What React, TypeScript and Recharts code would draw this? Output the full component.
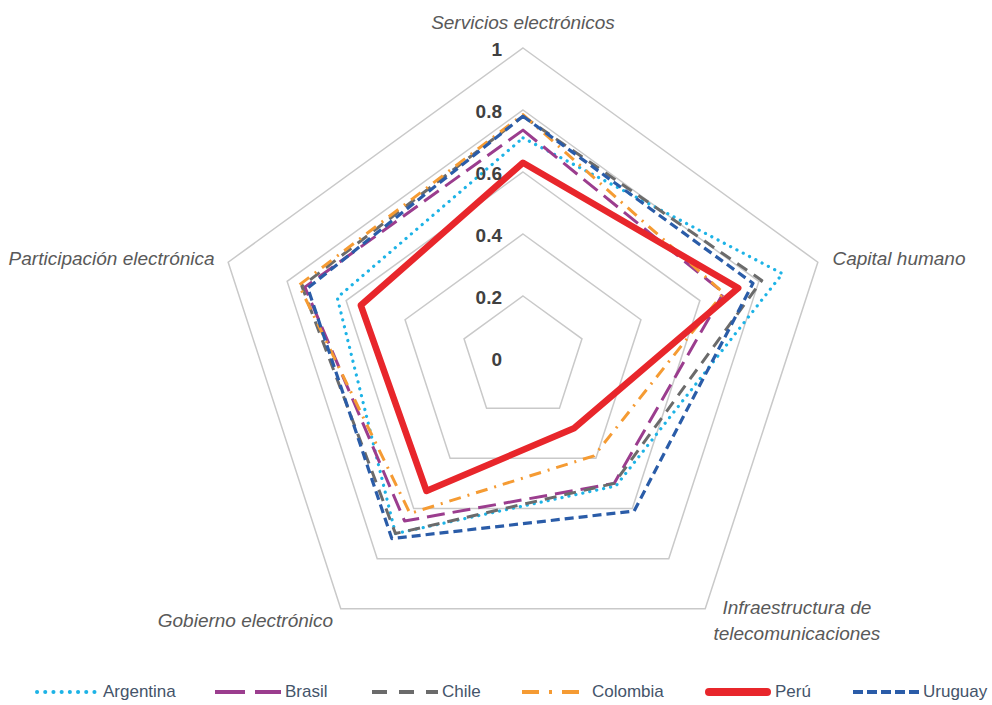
import React from 'react';
import { RadarChart, Radar, PolarGrid, PolarAngleAxis, PolarRadiusAxis, Legend } from 'recharts';

const categories = [
  'Servicios electrónicos',
  'Capital humano',
  'Infraestructura de telecomunicaciones',
  'Gobierno electrónico',
  'Participación electrónica',
];

const argentina = [0.71, 0.88, 0.51, 0.70, 0.63];
const brasil = [0.735, 0.68, 0.50, 0.65, 0.74];
const chile = [0.78, 0.81, 0.50, 0.70, 0.75];
const colombia = [0.785, 0.68, 0.39, 0.62, 0.76];
const peru = [0.63, 0.73, 0.28, 0.53, 0.55];
const uruguay = [0.78, 0.78, 0.61, 0.72, 0.73];

const radiusTicks = [0, 0.2, 0.4, 0.6, 0.8, 1];
const radiusTickLabels = ['0', '0.2', '0.4', '0.6', '0.8', '1'];

const seriesList = [
  { key: 'Argentina', values: argentina, color: '#1db3e6', width: 3.2, dash: '0.1 7', cap: 'round', legendDash: '0.1 8.1', legendWidth: 4 },
  { key: 'Brasil', values: brasil, color: '#9b3d8e', width: 3, dash: '18 8', cap: 'butt', legendDash: '30 10', legendWidth: 4 },
  { key: 'Chile', values: chile, color: '#6b6b6b', width: 3, dash: '12 8', cap: 'butt', legendDash: '15 12', legendWidth: 4 },
  { key: 'Colombia', values: colombia, color: '#f59b33', width: 3, dash: '12 7 2 7', cap: 'butt', legendDash: '17 10 3 10', legendWidth: 4 },
  { key: 'Uruguay', values: uruguay, color: '#2a5ca8', width: 3.2, dash: '9 5', cap: 'butt', legendDash: '10 4', legendWidth: 4 },
  { key: 'Perú', values: peru, color: '#e8262b', width: 6.5, dash: undefined, cap: 'round', legendDash: undefined, legendWidth: 8 },
];

const legendOrder = ['Argentina', 'Brasil', 'Chile', 'Colombia', 'Perú', 'Uruguay'];
const legendLefts = [33, 215, 372, 522, 705, 853];

const data = categories.map((c, i) => {
  const row: any = { category: c };
  seriesList.forEach((s) => {
    row[s.key] = s.values[i];
  });
  return row;
});

const FONT = '"Liberation Sans", Arial, sans-serif';

const angleOffsets = [
  { dx: 0, dy: -18, anchor: 'middle' },
  { dx: 7, dy: -2, anchor: 'start' },
  { dx: 87, dy: -8, anchor: 'middle' },
  { dx: -3, dy: 5, anchor: 'end' },
  { dx: -6, dy: -2, anchor: 'end' },
];

const AngleTick = (props: any) => {
  const { x, y, payload, index } = props;
  const o = angleOffsets[index] || { dx: 0, dy: 0, anchor: 'middle' };
  const label: string = payload.value;
  const lines = index === 2 ? ['Infraestructura de', 'telecomunicaciones'] : [label];
  return (
    <text
      x={x + o.dx}
      y={y + o.dy}
      textAnchor={o.anchor}
      fill="#595959"
      fontSize={19}
      fontStyle="italic"
      fontFamily={FONT}
      dominantBaseline="central"
    >
      {lines.map((l, i) => (
        <tspan key={i} x={x + o.dx} dy={i === 0 ? 0 : 26}>
          {l}
        </tspan>
      ))}
    </text>
  );
};

const RadiusTick = (props: any) => {
  const { x, y, payload } = props;
  const idx = radiusTicks.indexOf(payload.value);
  const label = idx >= 0 ? radiusTickLabels[idx] : String(payload.value);
  return (
    <text
      x={x - 21}
      y={y + 1}
      textAnchor="end"
      fill="#404040"
      fontSize={19}
      fontWeight="bold"
      fontFamily={FONT}
      dominantBaseline="central"
    >
      {label}
    </text>
  );
};

const LegendContent = () => {
  return (
    <div style={{ position: 'relative', width: 992, height: 20, fontFamily: FONT, whiteSpace: 'nowrap' }}>
      {legendOrder.map((name, i) => {
        const s = seriesList.find((q) => q.key === name)!;
        return (
          <div key={name} style={{ position: 'absolute', left: legendLefts[i], top: 0, display: 'flex', alignItems: 'center' }}>
            <svg width={66} height={14} style={{ display: 'block' }}>
              <line
                x1={s.cap === 'round' ? 4 : 0}
                y1={7}
                x2={s.cap === 'round' ? 62 : 66}
                y2={7}
                stroke={s.color}
                strokeWidth={s.legendWidth}
                strokeDasharray={s.legendDash}
                strokeLinecap={s.cap as any}
              />
            </svg>
            <span style={{ fontSize: 17, color: '#44546a', marginLeft: 4, lineHeight: '20px' }}>{name}</span>
          </div>
        );
      })}
    </div>
  );
};

export default function App() {
  return (
    <div style={{ position: 'absolute', left: 0, top: 0, width: 992, height: 705, background: '#ffffff' }}>
      <RadarChart
        width={992}
        height={705}
        data={data}
        cx={523}
        cy={358}
        outerRadius={310}
        startAngle={90}
        endAngle={-270}
        margin={{ top: 0, right: 0, bottom: 0, left: 0 }}
      >
        <PolarGrid gridType="polygon" radialLines={false} stroke="#c9c9c9" strokeWidth={1.5} />
        <PolarAngleAxis dataKey="category" tick={<AngleTick />} tickLine={false} axisLine={false} />
        <PolarRadiusAxis
          angle={90}
          domain={[0, 1]}
          ticks={radiusTicks as any}
          tickCount={6}
          tick={<RadiusTick />}
          axisLine={false}
          tickLine={false}
        />
        {seriesList.map((s) => (
          <Radar
            key={s.key}
            name={s.key}
            dataKey={s.key}
            stroke={s.color}
            strokeWidth={s.width}
            strokeDasharray={s.dash}
            strokeLinecap={s.cap as any}
            strokeLinejoin="round"
            fill="none"
            fillOpacity={0}
            dot={false}
            isAnimationActive={false}
          />
        ))}
        <Legend
          content={<LegendContent />}
          wrapperStyle={{ position: 'absolute', top: 682, left: 0, width: 992 }}
        />
      </RadarChart>
    </div>
  );
}
